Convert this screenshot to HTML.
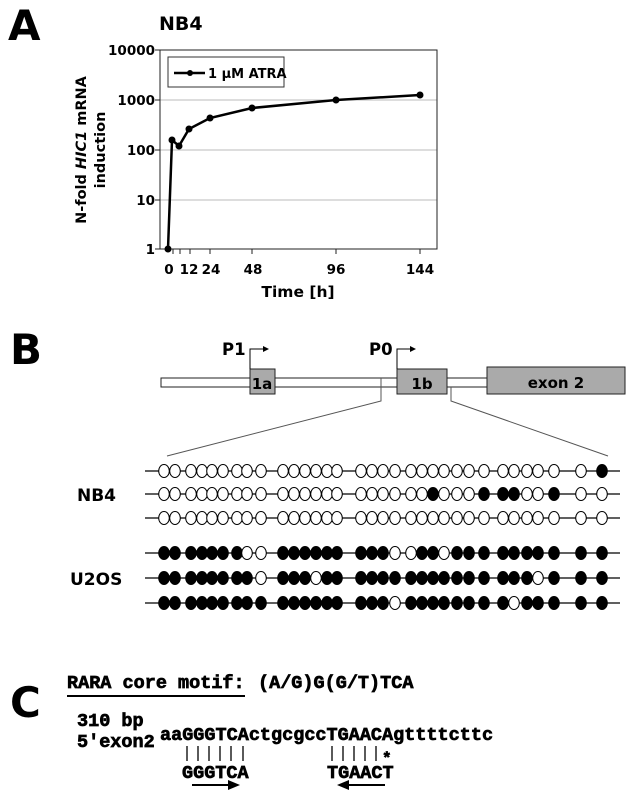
<!DOCTYPE html>
<html><head><meta charset="utf-8"><style>
html,body{margin:0;padding:0;background:#fff;}
svg{display:block;}
.v{font-family:"DejaVu Sans","Liberation Sans",sans-serif;font-weight:bold;}
.m{font-family:"Liberation Mono","DejaVu Sans Mono",monospace;font-weight:bold;stroke:#000;stroke-width:0.7;}
</style></head><body>
<svg width="640" height="800" viewBox="0 0 640 800" xmlns="http://www.w3.org/2000/svg">
<!-- Panel A -->
<text x="8" y="40" class="v" font-size="42">A</text>
<text x="159" y="30" class="v" font-size="19">NB4</text>
<g stroke="#bbb" stroke-width="1">
<line x1="160" y1="100" x2="437" y2="100"/><line x1="160" y1="150" x2="437" y2="150"/><line x1="160" y1="200" x2="437" y2="200"/>
</g>
<rect x="160" y="50" width="277" height="199" fill="none" stroke="#222" stroke-width="1"/>
<g stroke="#222" stroke-width="1">
<line x1="155" y1="50" x2="160" y2="50"/><line x1="155" y1="100" x2="160" y2="100"/><line x1="155" y1="150" x2="160" y2="150"/><line x1="155" y1="200" x2="160" y2="200"/><line x1="155" y1="249" x2="160" y2="249"/>
<line x1="173" y1="249" x2="173" y2="254"/><line x1="180" y1="249" x2="180" y2="254"/><line x1="190" y1="249" x2="190" y2="254"/><line x1="210" y1="249" x2="210" y2="254"/><line x1="252" y1="249" x2="252" y2="254"/><line x1="336" y1="249" x2="336" y2="254"/><line x1="420" y1="249" x2="420" y2="254"/>
</g>
<g class="v" font-size="13.5" text-anchor="end">
<text x="155" y="55">10000</text><text x="155" y="105">1000</text><text x="155" y="155">100</text><text x="155" y="205">10</text><text x="155" y="254">1</text>
</g>
<g class="v" font-size="13.5" text-anchor="middle">
<text x="169" y="274">0</text><text x="189" y="274">12</text><text x="211" y="274">24</text><text x="253" y="274">48</text><text x="336" y="274">96</text><text x="420" y="274">144</text>
</g>
<text x="298" y="297" class="v" font-size="15.5" text-anchor="middle">Time [h]</text>
<g transform="translate(86,150) rotate(-90)" class="v" font-size="14.5" text-anchor="middle">
<text x="0" y="0">N-fold <tspan font-style="italic">HIC1</tspan> mRNA</text>
<text x="0" y="19">induction</text>
</g>
<rect x="168" y="57" width="116" height="30" fill="#fff" stroke="#333"/>
<line x1="174" y1="73" x2="205" y2="73" stroke="#000" stroke-width="2.5"/><circle cx="190" cy="73" r="3" fill="#000"/>
<text x="208" y="78" class="v" font-size="13">1 µM ATRA</text>
<polyline points="168,249 172,140 179,146 189,129 210,118 252,108 336,100 420,95" fill="none" stroke="#000" stroke-width="2.5"/>
<g fill="#000"><circle cx="168" cy="249" r="3.5"/><circle cx="172" cy="140" r="3.5"/><circle cx="179" cy="146" r="3.5"/><circle cx="189" cy="129" r="3.5"/><circle cx="210" cy="118" r="3.5"/><circle cx="252" cy="108" r="3.5"/><circle cx="336" cy="100" r="3.5"/><circle cx="420" cy="95" r="3.5"/></g>

<!-- Panel B -->
<text x="10" y="364" class="v" font-size="42">B</text>
<rect x="161" y="378" width="326" height="9" fill="#fff" stroke="#222"/>
<rect x="250" y="369" width="25" height="25" fill="#aaa" stroke="#222"/>
<rect x="397" y="369" width="50" height="25" fill="#aaa" stroke="#222"/>
<rect x="487" y="367" width="138" height="27" fill="#aaa" stroke="#222"/>
<text x="262" y="389" class="v" font-size="15" text-anchor="middle">1a</text>
<text x="422" y="389" class="v" font-size="15" text-anchor="middle">1b</text>
<text x="556" y="388" class="v" font-size="15" text-anchor="middle">exon 2</text>
<text x="222" y="355" class="v" font-size="16.5">P1</text>
<text x="369" y="355" class="v" font-size="16.5">P0</text>
<g stroke="#000" stroke-width="1" fill="none">
<polyline points="250,369 250,349 265,349"/><polyline points="397,369 397,349 412,349"/>
</g>
<polygon points="269,349 263,346 263,352" fill="#000"/><polygon points="416,349 410,346 410,352" fill="#000"/>
<g stroke="#555" stroke-width="1" fill="none">
<polyline points="381,378 381,401 167,456"/><polyline points="451,387 451,401 608,456"/>
</g>
<text x="77" y="501" class="v" font-size="17">NB4</text>
<text x="70" y="585" class="v" font-size="17">U2OS</text>

<!-- Panel C -->
<text x="10" y="717" class="v" font-size="42">C</text>
<text x="67" y="688" class="m" font-size="18.5">RARA core motif:</text>
<line x1="67" y1="696" x2="245" y2="696" stroke="#000" stroke-width="2"/>
<text x="258" y="688" class="m" font-size="18.5">(A/G)G(G/T)TCA</text>
<text x="77" y="726" class="m" font-size="18.5">310 bp</text>
<text x="77" y="747" class="m" font-size="18.5">5'exon2</text>
<text x="160" y="740" class="m" font-size="18.5">aaGGGTCActgcgccTGAACAgttttcttc</text>
<g stroke="#000" stroke-width="1.3">
<line x1="187" y1="746" x2="187" y2="761"/><line x1="198" y1="746" x2="198" y2="761"/><line x1="209" y1="746" x2="209" y2="761"/><line x1="220" y1="746" x2="220" y2="761"/><line x1="231" y1="746" x2="231" y2="761"/><line x1="243" y1="746" x2="243" y2="761"/>
<line x1="332" y1="746" x2="332" y2="761"/><line x1="343" y1="746" x2="343" y2="761"/><line x1="354" y1="746" x2="354" y2="761"/><line x1="365" y1="746" x2="365" y2="761"/><line x1="376" y1="746" x2="376" y2="761"/>
</g>
<text x="382" y="763" class="m" font-size="16">*</text>
<text x="182" y="778" class="m" font-size="18.5">GGGTCA</text>
<text x="327" y="778" class="m" font-size="18.5">TGAACT</text>
<line x1="192" y1="785" x2="232" y2="785" stroke="#000" stroke-width="2"/><polygon points="240,785 228,780 228,790" fill="#000"/>
<line x1="345" y1="785" x2="385" y2="785" stroke="#000" stroke-width="2"/><polygon points="337,785 349,780 349,790" fill="#000"/>

<!-- methylation rows -->
<g stroke="#000" stroke-width="1.2">
<line x1="145" y1="471" x2="620" y2="471"/><line x1="145" y1="494" x2="620" y2="494"/><line x1="145" y1="518" x2="620" y2="518"/>
<line x1="145" y1="553" x2="620" y2="553"/><line x1="145" y1="578" x2="620" y2="578"/><line x1="145" y1="603" x2="620" y2="603"/>
</g>
<g stroke="#000" stroke-width="1">
<g fill="#fff"><ellipse cx="164" cy="471" rx="5.3" ry="6.5"/><ellipse cx="175" cy="471" rx="5.3" ry="6.5"/><ellipse cx="191" cy="471" rx="5.3" ry="6.5"/><ellipse cx="202" cy="471" rx="5.3" ry="6.5"/><ellipse cx="212" cy="471" rx="5.3" ry="6.5"/><ellipse cx="223" cy="471" rx="5.3" ry="6.5"/><ellipse cx="237" cy="471" rx="5.3" ry="6.5"/><ellipse cx="247" cy="471" rx="5.3" ry="6.5"/><ellipse cx="261" cy="471" rx="5.3" ry="6.5"/><ellipse cx="283" cy="471" rx="5.3" ry="6.5"/><ellipse cx="294" cy="471" rx="5.3" ry="6.5"/><ellipse cx="305" cy="471" rx="5.3" ry="6.5"/><ellipse cx="316" cy="471" rx="5.3" ry="6.5"/><ellipse cx="327" cy="471" rx="5.3" ry="6.5"/><ellipse cx="337" cy="471" rx="5.3" ry="6.5"/><ellipse cx="361" cy="471" rx="5.3" ry="6.5"/><ellipse cx="372" cy="471" rx="5.3" ry="6.5"/><ellipse cx="383" cy="471" rx="5.3" ry="6.5"/><ellipse cx="395" cy="471" rx="5.3" ry="6.5"/><ellipse cx="411" cy="471" rx="5.3" ry="6.5"/><ellipse cx="422" cy="471" rx="5.3" ry="6.5"/><ellipse cx="433" cy="471" rx="5.3" ry="6.5"/><ellipse cx="444" cy="471" rx="5.3" ry="6.5"/><ellipse cx="457" cy="471" rx="5.3" ry="6.5"/><ellipse cx="469" cy="471" rx="5.3" ry="6.5"/><ellipse cx="484" cy="471" rx="5.3" ry="6.5"/><ellipse cx="503" cy="471" rx="5.3" ry="6.5"/><ellipse cx="514" cy="471" rx="5.3" ry="6.5"/><ellipse cx="527" cy="471" rx="5.3" ry="6.5"/><ellipse cx="538" cy="471" rx="5.3" ry="6.5"/><ellipse cx="554" cy="471" rx="5.3" ry="6.5"/><ellipse cx="581" cy="471" rx="5.3" ry="6.5"/></g>
<ellipse cx="602" cy="471" rx="5.3" ry="6.5" fill="#000"/>
<g fill="#fff"><ellipse cx="164" cy="494" rx="5.3" ry="6.5"/><ellipse cx="175" cy="494" rx="5.3" ry="6.5"/><ellipse cx="191" cy="494" rx="5.3" ry="6.5"/><ellipse cx="202" cy="494" rx="5.3" ry="6.5"/><ellipse cx="212" cy="494" rx="5.3" ry="6.5"/><ellipse cx="223" cy="494" rx="5.3" ry="6.5"/><ellipse cx="237" cy="494" rx="5.3" ry="6.5"/><ellipse cx="247" cy="494" rx="5.3" ry="6.5"/><ellipse cx="261" cy="494" rx="5.3" ry="6.5"/><ellipse cx="283" cy="494" rx="5.3" ry="6.5"/><ellipse cx="294" cy="494" rx="5.3" ry="6.5"/><ellipse cx="305" cy="494" rx="5.3" ry="6.5"/><ellipse cx="316" cy="494" rx="5.3" ry="6.5"/><ellipse cx="327" cy="494" rx="5.3" ry="6.5"/><ellipse cx="337" cy="494" rx="5.3" ry="6.5"/><ellipse cx="361" cy="494" rx="5.3" ry="6.5"/><ellipse cx="372" cy="494" rx="5.3" ry="6.5"/><ellipse cx="383" cy="494" rx="5.3" ry="6.5"/><ellipse cx="395" cy="494" rx="5.3" ry="6.5"/><ellipse cx="411" cy="494" rx="5.3" ry="6.5"/><ellipse cx="422" cy="494" rx="5.3" ry="6.5"/><ellipse cx="444" cy="494" rx="5.3" ry="6.5"/><ellipse cx="457" cy="494" rx="5.3" ry="6.5"/><ellipse cx="469" cy="494" rx="5.3" ry="6.5"/><ellipse cx="527" cy="494" rx="5.3" ry="6.5"/><ellipse cx="538" cy="494" rx="5.3" ry="6.5"/><ellipse cx="581" cy="494" rx="5.3" ry="6.5"/><ellipse cx="602" cy="494" rx="5.3" ry="6.5"/></g>
<g fill="#000"><ellipse cx="433" cy="494" rx="5.3" ry="6.5"/><ellipse cx="484" cy="494" rx="5.3" ry="6.5"/><ellipse cx="503" cy="494" rx="5.3" ry="6.5"/><ellipse cx="514" cy="494" rx="5.3" ry="6.5"/><ellipse cx="554" cy="494" rx="5.3" ry="6.5"/></g>
<g fill="#fff"><ellipse cx="164" cy="518" rx="5.3" ry="6.5"/><ellipse cx="175" cy="518" rx="5.3" ry="6.5"/><ellipse cx="191" cy="518" rx="5.3" ry="6.5"/><ellipse cx="202" cy="518" rx="5.3" ry="6.5"/><ellipse cx="212" cy="518" rx="5.3" ry="6.5"/><ellipse cx="223" cy="518" rx="5.3" ry="6.5"/><ellipse cx="237" cy="518" rx="5.3" ry="6.5"/><ellipse cx="247" cy="518" rx="5.3" ry="6.5"/><ellipse cx="261" cy="518" rx="5.3" ry="6.5"/><ellipse cx="283" cy="518" rx="5.3" ry="6.5"/><ellipse cx="294" cy="518" rx="5.3" ry="6.5"/><ellipse cx="305" cy="518" rx="5.3" ry="6.5"/><ellipse cx="316" cy="518" rx="5.3" ry="6.5"/><ellipse cx="327" cy="518" rx="5.3" ry="6.5"/><ellipse cx="337" cy="518" rx="5.3" ry="6.5"/><ellipse cx="361" cy="518" rx="5.3" ry="6.5"/><ellipse cx="372" cy="518" rx="5.3" ry="6.5"/><ellipse cx="383" cy="518" rx="5.3" ry="6.5"/><ellipse cx="395" cy="518" rx="5.3" ry="6.5"/><ellipse cx="411" cy="518" rx="5.3" ry="6.5"/><ellipse cx="422" cy="518" rx="5.3" ry="6.5"/><ellipse cx="433" cy="518" rx="5.3" ry="6.5"/><ellipse cx="444" cy="518" rx="5.3" ry="6.5"/><ellipse cx="457" cy="518" rx="5.3" ry="6.5"/><ellipse cx="469" cy="518" rx="5.3" ry="6.5"/><ellipse cx="484" cy="518" rx="5.3" ry="6.5"/><ellipse cx="503" cy="518" rx="5.3" ry="6.5"/><ellipse cx="514" cy="518" rx="5.3" ry="6.5"/><ellipse cx="527" cy="518" rx="5.3" ry="6.5"/><ellipse cx="538" cy="518" rx="5.3" ry="6.5"/><ellipse cx="554" cy="518" rx="5.3" ry="6.5"/><ellipse cx="581" cy="518" rx="5.3" ry="6.5"/><ellipse cx="602" cy="518" rx="5.3" ry="6.5"/></g>
<g fill="#000"><ellipse cx="164" cy="553" rx="5.3" ry="6.5"/><ellipse cx="175" cy="553" rx="5.3" ry="6.5"/><ellipse cx="191" cy="553" rx="5.3" ry="6.5"/><ellipse cx="202" cy="553" rx="5.3" ry="6.5"/><ellipse cx="212" cy="553" rx="5.3" ry="6.5"/><ellipse cx="223" cy="553" rx="5.3" ry="6.5"/><ellipse cx="237" cy="553" rx="5.3" ry="6.5"/><ellipse cx="283" cy="553" rx="5.3" ry="6.5"/><ellipse cx="294" cy="553" rx="5.3" ry="6.5"/><ellipse cx="305" cy="553" rx="5.3" ry="6.5"/><ellipse cx="316" cy="553" rx="5.3" ry="6.5"/><ellipse cx="327" cy="553" rx="5.3" ry="6.5"/><ellipse cx="337" cy="553" rx="5.3" ry="6.5"/><ellipse cx="361" cy="553" rx="5.3" ry="6.5"/><ellipse cx="372" cy="553" rx="5.3" ry="6.5"/><ellipse cx="383" cy="553" rx="5.3" ry="6.5"/><ellipse cx="422" cy="553" rx="5.3" ry="6.5"/><ellipse cx="433" cy="553" rx="5.3" ry="6.5"/><ellipse cx="457" cy="553" rx="5.3" ry="6.5"/><ellipse cx="469" cy="553" rx="5.3" ry="6.5"/><ellipse cx="484" cy="553" rx="5.3" ry="6.5"/><ellipse cx="503" cy="553" rx="5.3" ry="6.5"/><ellipse cx="514" cy="553" rx="5.3" ry="6.5"/><ellipse cx="527" cy="553" rx="5.3" ry="6.5"/><ellipse cx="538" cy="553" rx="5.3" ry="6.5"/><ellipse cx="554" cy="553" rx="5.3" ry="6.5"/><ellipse cx="581" cy="553" rx="5.3" ry="6.5"/><ellipse cx="602" cy="553" rx="5.3" ry="6.5"/></g>
<g fill="#fff"><ellipse cx="247" cy="553" rx="5.3" ry="6.5"/><ellipse cx="261" cy="553" rx="5.3" ry="6.5"/><ellipse cx="395" cy="553" rx="5.3" ry="6.5"/><ellipse cx="411" cy="553" rx="5.3" ry="6.5"/><ellipse cx="444" cy="553" rx="5.3" ry="6.5"/></g>
<g fill="#000"><ellipse cx="164" cy="578" rx="5.3" ry="6.5"/><ellipse cx="175" cy="578" rx="5.3" ry="6.5"/><ellipse cx="191" cy="578" rx="5.3" ry="6.5"/><ellipse cx="202" cy="578" rx="5.3" ry="6.5"/><ellipse cx="212" cy="578" rx="5.3" ry="6.5"/><ellipse cx="223" cy="578" rx="5.3" ry="6.5"/><ellipse cx="237" cy="578" rx="5.3" ry="6.5"/><ellipse cx="247" cy="578" rx="5.3" ry="6.5"/><ellipse cx="283" cy="578" rx="5.3" ry="6.5"/><ellipse cx="294" cy="578" rx="5.3" ry="6.5"/><ellipse cx="305" cy="578" rx="5.3" ry="6.5"/><ellipse cx="327" cy="578" rx="5.3" ry="6.5"/><ellipse cx="337" cy="578" rx="5.3" ry="6.5"/><ellipse cx="361" cy="578" rx="5.3" ry="6.5"/><ellipse cx="372" cy="578" rx="5.3" ry="6.5"/><ellipse cx="383" cy="578" rx="5.3" ry="6.5"/><ellipse cx="395" cy="578" rx="5.3" ry="6.5"/><ellipse cx="411" cy="578" rx="5.3" ry="6.5"/><ellipse cx="422" cy="578" rx="5.3" ry="6.5"/><ellipse cx="433" cy="578" rx="5.3" ry="6.5"/><ellipse cx="444" cy="578" rx="5.3" ry="6.5"/><ellipse cx="457" cy="578" rx="5.3" ry="6.5"/><ellipse cx="469" cy="578" rx="5.3" ry="6.5"/><ellipse cx="484" cy="578" rx="5.3" ry="6.5"/><ellipse cx="503" cy="578" rx="5.3" ry="6.5"/><ellipse cx="514" cy="578" rx="5.3" ry="6.5"/><ellipse cx="527" cy="578" rx="5.3" ry="6.5"/><ellipse cx="554" cy="578" rx="5.3" ry="6.5"/><ellipse cx="581" cy="578" rx="5.3" ry="6.5"/><ellipse cx="602" cy="578" rx="5.3" ry="6.5"/></g>
<g fill="#fff"><ellipse cx="261" cy="578" rx="5.3" ry="6.5"/><ellipse cx="316" cy="578" rx="5.3" ry="6.5"/><ellipse cx="538" cy="578" rx="5.3" ry="6.5"/></g>
<g fill="#000"><ellipse cx="164" cy="603" rx="5.3" ry="6.5"/><ellipse cx="175" cy="603" rx="5.3" ry="6.5"/><ellipse cx="191" cy="603" rx="5.3" ry="6.5"/><ellipse cx="202" cy="603" rx="5.3" ry="6.5"/><ellipse cx="212" cy="603" rx="5.3" ry="6.5"/><ellipse cx="223" cy="603" rx="5.3" ry="6.5"/><ellipse cx="237" cy="603" rx="5.3" ry="6.5"/><ellipse cx="247" cy="603" rx="5.3" ry="6.5"/><ellipse cx="261" cy="603" rx="5.3" ry="6.5"/><ellipse cx="283" cy="603" rx="5.3" ry="6.5"/><ellipse cx="294" cy="603" rx="5.3" ry="6.5"/><ellipse cx="305" cy="603" rx="5.3" ry="6.5"/><ellipse cx="316" cy="603" rx="5.3" ry="6.5"/><ellipse cx="327" cy="603" rx="5.3" ry="6.5"/><ellipse cx="337" cy="603" rx="5.3" ry="6.5"/><ellipse cx="361" cy="603" rx="5.3" ry="6.5"/><ellipse cx="372" cy="603" rx="5.3" ry="6.5"/><ellipse cx="383" cy="603" rx="5.3" ry="6.5"/><ellipse cx="411" cy="603" rx="5.3" ry="6.5"/><ellipse cx="422" cy="603" rx="5.3" ry="6.5"/><ellipse cx="433" cy="603" rx="5.3" ry="6.5"/><ellipse cx="444" cy="603" rx="5.3" ry="6.5"/><ellipse cx="457" cy="603" rx="5.3" ry="6.5"/><ellipse cx="469" cy="603" rx="5.3" ry="6.5"/><ellipse cx="484" cy="603" rx="5.3" ry="6.5"/><ellipse cx="503" cy="603" rx="5.3" ry="6.5"/><ellipse cx="527" cy="603" rx="5.3" ry="6.5"/><ellipse cx="538" cy="603" rx="5.3" ry="6.5"/><ellipse cx="554" cy="603" rx="5.3" ry="6.5"/><ellipse cx="581" cy="603" rx="5.3" ry="6.5"/><ellipse cx="602" cy="603" rx="5.3" ry="6.5"/></g>
<g fill="#fff"><ellipse cx="395" cy="603" rx="5.3" ry="6.5"/><ellipse cx="514" cy="603" rx="5.3" ry="6.5"/></g>
</g>
</svg>
</body></html>
